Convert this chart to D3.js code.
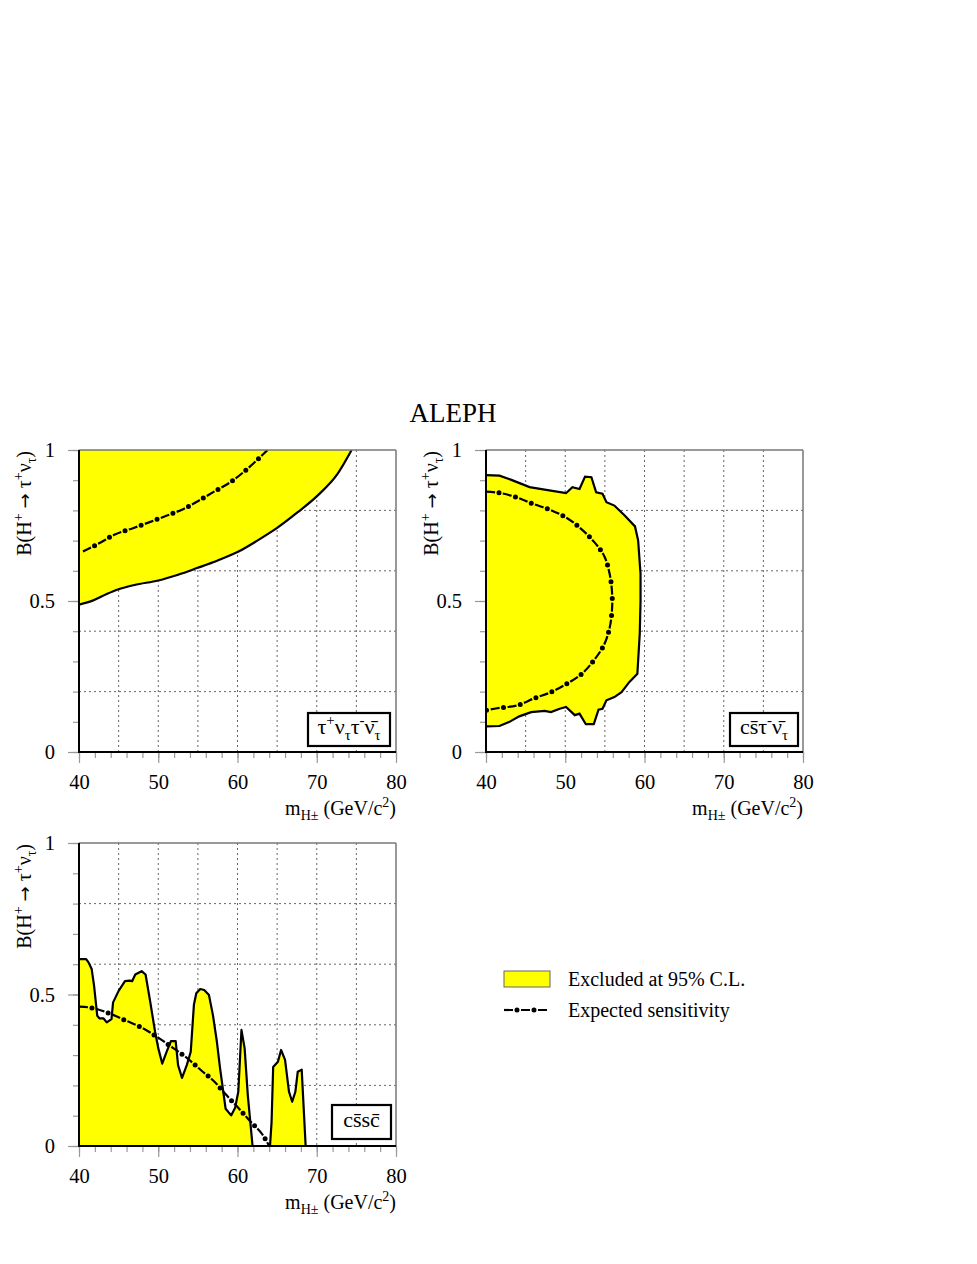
<!DOCTYPE html>
<html>
<head>
<meta charset="utf-8">
<script src="https://cdn.jsdelivr.net/npm/d3@7"></script>
<style>
  html, body { margin: 0; padding: 0; background: #fff; }
  svg text { font-family: "Liberation Serif", "DejaVu Serif", serif; fill: #000; }
</style>
</head>
<body>
<svg id="chart" width="977" height="1264"></svg>
<script>
// ---------------- DATA ----------------
const xTicksMajor = [40, 50, 60, 70, 80];
const yTicksMajor = [0, 0.5, 1];
const yTickLabels = ["0", "0.5", "1"];
const xGrid = [45, 50, 55, 60, 65, 70, 75];
const yGrid = [0.2, 0.4, 0.6, 0.8];

// Panel 1: tau nu tau nu
const tautau_mass = [40, 41.8, 43.5, 44.8, 47, 50, 52.5, 54.9, 57.5, 60, 62.5, 65, 67.6, 70.1, 72.6, 74.4];
const tautau_obs  = [0.488, 0.502, 0.523, 0.537, 0.553, 0.568, 0.587, 0.609, 0.634, 0.662, 0.700, 0.742, 0.794, 0.849, 0.920, 1.0];
const tautau_exp_mass = [40.5, 42.6, 44.6, 46.8, 49, 51.1, 53.2, 55.1, 57.1, 59.2, 60.9, 62.6, 63.8];
const tautau_exp      = [0.664, 0.692, 0.721, 0.741, 0.762, 0.783, 0.805, 0.832, 0.863, 0.895, 0.930, 0.970, 1.0];

// Panel 2: cs tau nu (closed contour, traced clockwise from upper-left)
const cstau_mass = [40, 41.7, 43.2, 45.5, 47.4, 50.1, 50.9, 51.8, 52.5, 53.3, 53.9, 54.7, 55.2, 56.2, 57.5, 58.8, 59.2, 59.5, 59.5, 59.4, 59.1, 58.1, 57.1, 56.2, 55.2, 54.7, 54.2, 53.6, 52.6, 51.8, 51.2, 50.1, 49.3, 48.2, 47.4, 45.7, 44.2, 42.9, 41.7, 40];
const cstau_obs  = [0.917, 0.915, 0.901, 0.877, 0.869, 0.857, 0.877, 0.871, 0.912, 0.910, 0.860, 0.855, 0.827, 0.816, 0.783, 0.747, 0.700, 0.590, 0.500, 0.391, 0.259, 0.232, 0.198, 0.182, 0.171, 0.143, 0.140, 0.092, 0.092, 0.127, 0.122, 0.149, 0.143, 0.132, 0.136, 0.132, 0.118, 0.099, 0.086, 0.085];
const cstau_exp_mass = [40, 41.7, 43.9, 46, 48.1, 50.2, 52, 53.6, 54.9, 55.6, 55.9, 55.9, 55.6, 54.9, 53.6, 52.1, 50.2, 48.2, 46.1, 43.9, 41.7, 40];
const cstau_exp      = [0.862, 0.858, 0.843, 0.821, 0.802, 0.775, 0.739, 0.697, 0.650, 0.590, 0.530, 0.471, 0.411, 0.355, 0.303, 0.259, 0.226, 0.198, 0.178, 0.154, 0.146, 0.138];

// Panel 3: cs sc (two excluded islands)
const cssc_mass_a = [40, 40.9, 41.2, 41.6, 41.9, 42.3, 42.6, 43.1, 43.5, 44.1, 44.3, 45, 45.8, 46.4, 46.7, 47.1, 47.9, 48.4, 49, 49.6, 50, 50.5, 51.1, 51.6, 52.2, 52.5, 53, 53.6, 54.1, 54.5, 54.8, 55.3, 55.8, 56.4, 56.9, 57.4, 57.8, 58.5, 59.2, 59.7, 60.1, 60.5, 60.9, 61.3, 61.9];
const cssc_obs_a  = [0.617, 0.617, 0.606, 0.584, 0.529, 0.430, 0.421, 0.421, 0.408, 0.419, 0.474, 0.512, 0.544, 0.546, 0.544, 0.566, 0.577, 0.566, 0.474, 0.377, 0.323, 0.272, 0.314, 0.346, 0.346, 0.267, 0.225, 0.267, 0.311, 0.466, 0.504, 0.518, 0.515, 0.498, 0.432, 0.344, 0.256, 0.123, 0.101, 0.126, 0.179, 0.383, 0.322, 0.168, 0.0];
const cssc_mass_b = [64.1, 64.3, 64.5, 65.1, 65.5, 66, 66.5, 66.9, 67.3, 67.6, 68.1, 68.6];
const cssc_obs_b  = [0.0, 0.079, 0.261, 0.278, 0.317, 0.284, 0.179, 0.146, 0.179, 0.245, 0.252, 0.0];
const cssc_exp_mass = [40, 41.6, 43.8, 45.9, 47.9, 49.8, 51.8, 53.6, 55.4, 57.1, 58.6, 60.2, 61.6, 63.3, 64];
const cssc_exp      = [0.460, 0.456, 0.438, 0.414, 0.391, 0.361, 0.325, 0.291, 0.250, 0.212, 0.168, 0.123, 0.082, 0.032, 0.0];

const legendLabels = ["Excluded at 95% C.L.", "Expected sensitivity"];

// ---------------- DRAW ----------------
const svg = d3.select("#chart");
const YELLOW = "#ffff00";
const zip = (xs, ys) => xs.map((x, i) => [x, ys[i]]);

svg.append("text").attr("x", 453).attr("y", 422).attr("text-anchor", "middle")
  .style("font-size", "27px").text("ALEPH");

function dashDot(g, pathD) {
  g.append("path").attr("d", pathD).attr("fill", "none").attr("stroke", "#000")
    .attr("stroke-width", 2.2).attr("stroke-dasharray", "9 8");
  g.append("path").attr("d", pathD).attr("fill", "none").attr("stroke", "#000")
    .attr("stroke-width", 5).attr("stroke-linecap", "round")
    .attr("stroke-dasharray", "0 17").attr("stroke-dashoffset", 4);
}

function panel(id, left, right, top, bottom, drawContent, labelFn, box) {
  const g = svg.append("g");
  const x = d3.scaleLinear().domain([40, 80]).range([left, right]);
  const y = d3.scaleLinear().domain([0, 1]).range([bottom, top]);

  const clipId = "clip" + id;
  svg.append("clipPath").attr("id", clipId).append("rect")
    .attr("x", left).attr("y", top).attr("width", right - left).attr("height", bottom - top);
  const inner = g.append("g").attr("clip-path", `url(#${clipId})`);

  drawContent(inner, x, y);

  // grid on top of fill
  const grid = g.append("g").attr("stroke", "#666").attr("stroke-width", 1).attr("stroke-dasharray", "2 3");
  grid.selectAll(".vx").data(xGrid).join("line")
    .attr("x1", d => x(d)).attr("x2", d => x(d)).attr("y1", top).attr("y2", bottom);
  grid.selectAll(".hy").data(yGrid).join("line")
    .attr("x1", left).attr("x2", right).attr("y1", d => y(d)).attr("y2", d => y(d));

  inner.raise();

  // axes ticks
  const xMinor = d3.range(40, 80.01, 2);
  const yMinor = d3.range(0, 1.001, 0.1);
  const axXmin = g.append("g").attr("transform", `translate(0,${bottom})`)
    .call(d3.axisBottom(x).tickValues(xMinor).tickSize(6).tickFormat(""));
  const axXmaj = g.append("g").attr("transform", `translate(0,${bottom})`)
    .call(d3.axisBottom(x).tickValues(xTicksMajor).tickSize(11).tickPadding(11).tickFormat(d3.format("d")));
  const axYmin = g.append("g").attr("transform", `translate(${left},0)`)
    .call(d3.axisLeft(y).tickValues(yMinor).tickSize(6).tickFormat(""));
  const axYmaj = g.append("g").attr("transform", `translate(${left},0)`)
    .call(d3.axisLeft(y).tickValues(yTicksMajor).tickSize(11).tickPadding(13)
      .tickFormat((d, i) => yTickLabels[i]));
  [axXmin, axXmaj, axYmin, axYmaj].forEach(a => {
    a.select(".domain").remove();
    a.selectAll(".tick line").attr("stroke", "#999").attr("stroke-width", 1.2);
    a.selectAll("text").style("font-size", "20.5px").attr("fill", "#000")
      .style("font-family", '"Liberation Serif", serif');
  });

  // frame
  g.append("line").attr("x1", left).attr("x2", right).attr("y1", top).attr("y2", top)
    .attr("stroke", "#777").attr("stroke-width", 1.5);
  g.append("line").attr("x1", right).attr("x2", right).attr("y1", top).attr("y2", bottom)
    .attr("stroke", "#777").attr("stroke-width", 1.5);
  g.append("line").attr("x1", left).attr("x2", left).attr("y1", top).attr("y2", bottom + 1)
    .attr("stroke", "#000").attr("stroke-width", 2);
  g.append("line").attr("x1", left - 1).attr("x2", right).attr("y1", bottom).attr("y2", bottom)
    .attr("stroke", "#000").attr("stroke-width", 2);

  // x title
  const xt = g.append("text").attr("x", right).attr("y", bottom + 63).attr("text-anchor", "end")
    .style("font-size", "20px");
  xt.append("tspan").text("m");
  xt.append("tspan").attr("dy", 5).style("font-size", "14px").text("H±");
  xt.append("tspan").attr("dy", -5).text(" (GeV/c");
  xt.append("tspan").attr("dy", -8).style("font-size", "14px").text("2");
  xt.append("tspan").attr("dy", 8).text(")");

  // y title (rotated)
  const yt = g.append("text").attr("transform", `translate(${left - 48},${top + 1}) rotate(-90)`)
    .attr("text-anchor", "end").style("font-size", "20px");
  yt.append("tspan").text("B(H");
  yt.append("tspan").attr("dy", -8).style("font-size", "14px").text("+");
  yt.append("tspan").attr("dy", 8).text(" ");
  yt.append("tspan").style("font-family", '"DejaVu Sans", sans-serif').style("font-size", "18px").text("→");
  yt.append("tspan").text(" τ");
  yt.append("tspan").attr("dy", -8).style("font-size", "14px").text("+");
  yt.append("tspan").attr("dy", 8).text("ν");
  yt.append("tspan").attr("dy", 5).style("font-size", "14px").text("τ");
  yt.append("tspan").attr("dy", -5).text(")");

  // label box
  g.append("rect").attr("x", box[0]).attr("y", box[1]).attr("width", box[2] - box[0]).attr("height", box[3] - box[1])
    .attr("fill", "#fff").attr("stroke", "#000").attr("stroke-width", 2.2);
  labelFn(g, (box[0] + box[2]) / 2, box[3] - 10);
}

// Panel 1
panel(1, 79, 396, 450, 752, (g, x, y) => {
  const pts = zip(tautau_mass, tautau_obs);
  g.append("path").datum(pts)
    .attr("d", d3.area().x(d => x(d[0])).y0(y(1)).y1(d => y(d[1])).curve(d3.curveMonotoneX))
    .attr("fill", YELLOW);
  g.append("path").datum(pts).attr("d", d3.line().x(d => x(d[0])).y(d => y(d[1])).curve(d3.curveMonotoneX))
    .attr("fill", "none").attr("stroke", "#000").attr("stroke-width", 2.2);
  dashDot(g, d3.line().x(d => x(d[0])).y(d => y(d[1])).curve(d3.curveMonotoneX)(zip(tautau_exp_mass, tautau_exp)));
}, (g, cx, by) => {
  const t = g.append("text").attr("x", cx).attr("y", by - 2).attr("text-anchor", "middle").style("font-size", "22px");
  t.append("tspan").text("τ");
  t.append("tspan").attr("dy", -9).style("font-size", "15px").text("+");
  t.append("tspan").attr("dy", 9).text("ν");
  t.append("tspan").attr("dy", 6).style("font-size", "15px").text("τ");
  t.append("tspan").attr("dy", -6).text("τ");
  t.append("tspan").attr("dy", -9).style("font-size", "15px").text("-");
  t.append("tspan").attr("dy", 9).text("ν\u0304");
  t.append("tspan").attr("dy", 6).style("font-size", "15px").text("τ");
}, [308, 713, 390, 746]);

// Panel 2
panel(2, 486, 803, 450, 752, (g, x, y) => {
  const pts = zip(cstau_mass, cstau_obs);
  const ln = d3.line().x(d => x(d[0])).y(d => y(d[1]));
  g.append("path").attr("d", ln(pts) + "Z").attr("fill", YELLOW);
  g.append("path").attr("d", ln(pts)).attr("fill", "none").attr("stroke", "#000").attr("stroke-width", 2.2);
  dashDot(g, d3.line().x(d => x(d[0])).y(d => y(d[1])).curve(d3.curveCatmullRom)(zip(cstau_exp_mass, cstau_exp)));
}, (g, cx, by) => {
  const t = g.append("text").attr("x", cx).attr("y", by - 2).attr("text-anchor", "middle").style("font-size", "22px");
  t.append("tspan").text("cs\u0304τ");
  t.append("tspan").attr("dy", -9).style("font-size", "15px").text("-");
  t.append("tspan").attr("dy", 9).text("ν\u0304");
  t.append("tspan").attr("dy", 6).style("font-size", "15px").text("τ");
}, [730, 713, 798, 746]);

// Panel 3
panel(3, 79, 396, 843, 1146, (g, x, y) => {
  const ar = d3.area().x(d => x(d[0])).y0(y(0)).y1(d => y(d[1]));
  const ln = d3.line().x(d => x(d[0])).y(d => y(d[1]));
  [zip(cssc_mass_a, cssc_obs_a), zip(cssc_mass_b, cssc_obs_b)].forEach(pts => {
    g.append("path").attr("d", ar(pts)).attr("fill", YELLOW);
    g.append("path").attr("d", ln(pts)).attr("fill", "none").attr("stroke", "#000").attr("stroke-width", 2.2)
      .attr("stroke-linejoin", "round");
  });
  dashDot(g, d3.line().x(d => x(d[0])).y(d => y(d[1])).curve(d3.curveMonotoneX)(zip(cssc_exp_mass, cssc_exp)));
}, (g, cx, by) => {
  g.append("text").attr("x", cx).attr("y", by - 2).attr("text-anchor", "middle").style("font-size", "22px")
    .text("cs\u0304sc\u0304");
}, [332, 1105, 391, 1139]);

// Legend
const lg = svg.append("g");
lg.append("rect").attr("x", 504).attr("y", 971).attr("width", 46).attr("height", 16)
  .attr("fill", YELLOW).attr("stroke", "#666").attr("stroke-width", 1);
lg.append("text").attr("x", 568).attr("y", 986).style("font-size", "20px").text(legendLabels[0]);
dashDot(lg, d3.line()([[504, 1010], [550, 1010]]));
lg.append("text").attr("x", 568).attr("y", 1017).style("font-size", "20px").text(legendLabels[1]);
</script>
</body>
</html>
